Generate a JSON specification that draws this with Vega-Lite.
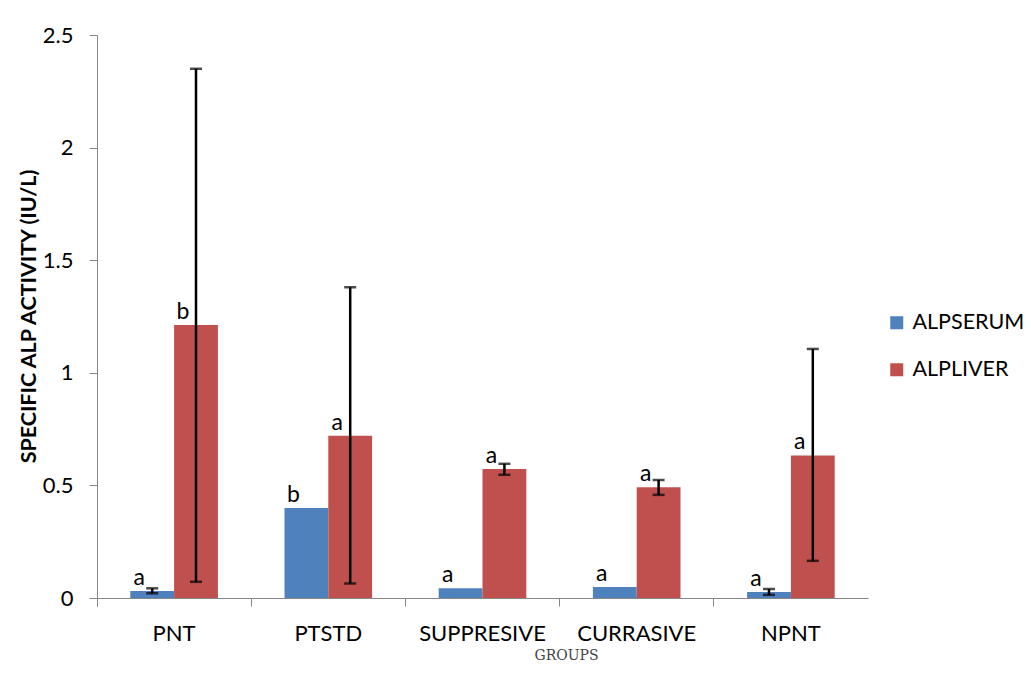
{
  "$schema": "https://vega.github.io/schema/vega-lite/v6.json",
  "width": 771,
  "height": 563,
  "autosize": "none",
  "padding": {"left": 97, "top": 35, "right": 163, "bottom": 77},
  "background": "white",
  "config": {
    "view": {"stroke": null},
    "font": "Lato"
  },
  "data": {
    "values": [
      {"group": "PNT", "series": "ALPSERUM", "value": 0.031, "low": 0.021, "high": 0.043, "label": "a"},
      {"group": "PNT", "series": "ALPLIVER", "value": 1.212, "low": 0.072, "high": 2.35, "label": "b"},
      {"group": "PTSTD", "series": "ALPSERUM", "value": 0.40, "low": null, "high": null, "label": "b"},
      {"group": "PTSTD", "series": "ALPLIVER", "value": 0.72, "low": 0.064, "high": 1.38, "label": "a"},
      {"group": "SUPPRESIVE", "series": "ALPSERUM", "value": 0.043, "low": null, "high": null, "label": "a"},
      {"group": "SUPPRESIVE", "series": "ALPLIVER", "value": 0.573, "low": 0.547, "high": 0.596, "label": "a"},
      {"group": "CURRASIVE", "series": "ALPSERUM", "value": 0.049, "low": null, "high": null, "label": "a"},
      {"group": "CURRASIVE", "series": "ALPLIVER", "value": 0.492, "low": 0.458, "high": 0.524, "label": "a"},
      {"group": "NPNT", "series": "ALPSERUM", "value": 0.027, "low": 0.014, "high": 0.04, "label": "a"},
      {"group": "NPNT", "series": "ALPLIVER", "value": 0.633, "low": 0.165, "high": 1.106, "label": "a"}
    ]
  },
  "encoding": {
    "x": {
      "field": "group",
      "type": "nominal",
      "sort": ["PNT", "PTSTD", "SUPPRESIVE", "CURRASIVE", "NPNT"],
      "scale": {"paddingInner": 0, "paddingOuter": 0},
      "axis": {
        "title": "GROUPS",
        "titleFont": "DejaVu Serif",
        "titleFontSize": 14,
        "titleFontWeight": "normal",
        "titleColor": "#444444",
        "titleX": 469,
        "titleY": 57,
        "titleAlign": "center",
        "titleBaseline": "middle",
        "labelAngle": 0,
        "labelFont": "Lato",
        "labelFontSize": 22,
        "labelColor": "#000000",
        "labelPadding": 17,
        "domainColor": "#868686",
        "tickColor": "#868686",
        "tickSize": 8,
        "bandPosition": 0,
        "tickExtra": true,
        "grid": false
      }
    },
    "xOffset": {
      "field": "series",
      "type": "nominal",
      "sort": ["ALPSERUM", "ALPLIVER"],
      "scale": {"paddingInner": 0, "paddingOuter": 0.76}
    }
  },
  "layer": [
    {
      "mark": {"type": "bar"},
      "encoding": {
        "y": {
          "field": "value",
          "type": "quantitative",
          "scale": {"domain": [0, 2.5], "nice": false},
          "axis": {
            "title": "SPECIFIC ALP ACTIVITY (IU/L)",
            "titleFont": "Lato",
            "titleFontSize": 21.5,
            "titleFontWeight": "bold",
            "titleColor": "#000000",
            "titleX": -68,
            "titleY": 281,
            "titleAlign": "center",
            "titleBaseline": "middle",
            "titleAngle": 270,
            "values": [0, 0.5, 1, 1.5, 2, 2.5],
            "format": "~g",
            "labelFont": "Lato",
            "labelFontSize": 22,
            "labelColor": "#000000",
            "labelPadding": 16,
            "domainColor": "#868686",
            "tickColor": "#868686",
            "tickSize": 8,
            "grid": false
          }
        },
        "color": {
          "field": "series",
          "type": "nominal",
          "sort": ["ALPSERUM", "ALPLIVER"],
          "scale": {"domain": ["ALPSERUM", "ALPLIVER"], "range": ["#4F81BD", "#C0504D"]},
          "legend": {
            "title": null,
            "orient": "none",
            "legendX": 789,
            "legendY": 277,
            "symbolType": "square",
            "symbolSize": 169,
            "symbolStrokeWidth": 0,
            "labelFont": "Lato",
            "labelFontSize": 21.5,
            "labelColor": "#000000",
            "labelOffset": 5,
            "rowPadding": 24
          }
        }
      }
    },
    {
      "transform": [{"filter": "datum.low != null"}],
      "mark": {"type": "rule", "color": "#000000", "strokeWidth": 2.5},
      "encoding": {
        "y": {"field": "low", "type": "quantitative"},
        "y2": {"field": "high"}
      }
    },
    {
      "transform": [{"filter": "datum.low != null"}],
      "mark": {"type": "tick", "color": "#000000", "size": 12, "thickness": 2.5, "orient": "horizontal"},
      "encoding": {
        "y": {"field": "low", "type": "quantitative"}
      }
    },
    {
      "transform": [{"filter": "datum.low != null"}],
      "mark": {"type": "tick", "color": "#000000", "size": 12, "thickness": 2.5, "orient": "horizontal"},
      "encoding": {
        "y": {"field": "high", "type": "quantitative"}
      }
    },
    {
      "mark": {"type": "text", "font": "Lato", "fontSize": 23, "color": "#000000", "align": "center", "baseline": "alphabetic", "dx": -13, "dy": -6},
      "encoding": {
        "y": {"field": "value", "type": "quantitative"},
        "text": {"field": "label"}
      }
    }
  ]
}
